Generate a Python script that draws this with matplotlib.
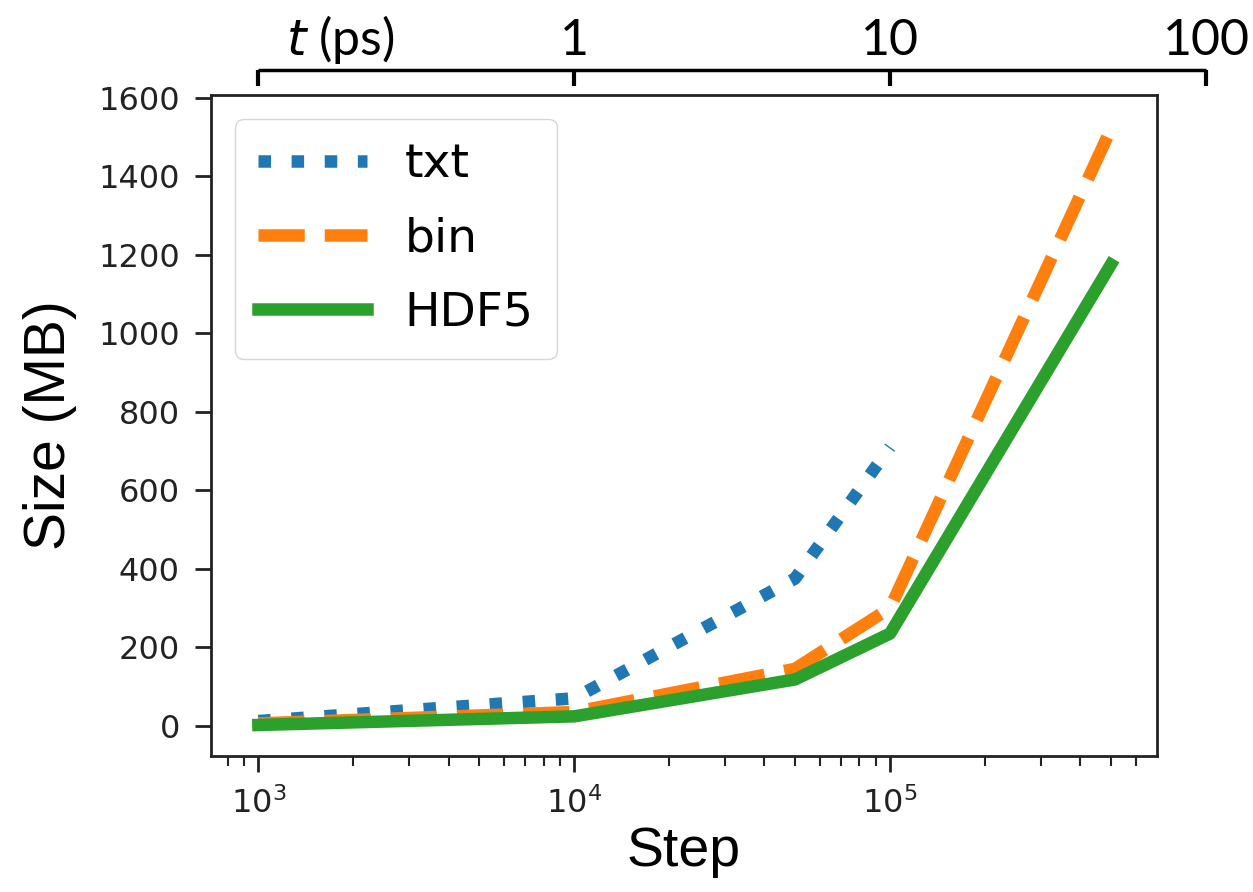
import numpy as np
import matplotlib
matplotlib.use("Agg")
import matplotlib.pyplot as plt
import matplotlib.transforms as mtransforms

# file size vs number of steps
steps_txt = [1e3, 1e4, 5e4, 1e5]
size_txt = [12, 70, 375, 710]
steps = [1e3, 1e4, 5e4, 1e5, 5e5]
size_bin = [6, 35, 145, 300, 1520]
size_hdf5 = [2, 24, 118, 235, 1175]

# top time axis (ps), 1 step = 1e-4 ps
t_ticks = [1, 10, 100]
t_per_step = 1e-4
bracket_start = 1e3

fig = plt.figure(figsize=(12.53, 8.92), dpi=100)
ax = fig.add_axes([211/1253, 1-756/892, (1157-211)/1253, (756-95)/892])

lw = 9
ax.plot(steps_txt, size_txt, ":", color="#1f77b4", lw=lw, label="txt")
ax.plot(steps, size_bin, "--", color="#ff7f0e", lw=lw, label="bin")
ax.plot(steps, size_hdf5, "-", color="#2ca02c", lw=lw, label="HDF5")

ax.set_xscale("log")
ax.set_xlim(10 ** 2.85, 10 ** 5.845)
ax.set_ylim(-77, 1607)
ax.set_yticks(np.arange(0, 1601, 200))
ax.set_xlabel("Step", fontsize=40, family="Liberation Sans", labelpad=4)
ax.set_ylabel("Size (MB)", fontsize=41, family="Liberation Sans", labelpad=15)
ax.tick_params(which="major", labelsize=23, length=11.5, width=2, pad=11,
               colors="#222222")
ax.tick_params(which="minor", length=7, width=1.5, colors="#222222")
for s in ax.spines.values():
    s.set_linewidth(2)
    s.set_color("#222222")
ax.legend(loc="upper left", fontsize=34, handlelength=2.3, labelspacing=0.62,
          borderpad=0.5, framealpha=0.8, edgecolor="#cccccc")

# bracket-shaped time axis above the plot
trans = mtransforms.blended_transform_factory(ax.transData, fig.transFigure)
y_line = 1 - 70/892
y_tick = 1 - 86/892
x_end = t_ticks[-1] / t_per_step
ax.plot([bracket_start, x_end], [y_line, y_line], color="black", lw=2.5,
        transform=trans, clip_on=False, solid_capstyle="butt", scalex=False, scaley=False)
for x in [bracket_start] + [t / t_per_step for t in t_ticks]:
    ax.plot([x, x], [y_line, y_tick], color="black", lw=3, transform=trans,
            clip_on=False, solid_capstyle="butt", scalex=False, scaley=False)
y_lab = 1 - 55/892
for t in t_ticks:
    ax.text(t / t_per_step, y_lab, str(t), transform=trans, ha="center",
            va="baseline", fontsize=36, family="Lato")
ax.text(10 ** 3.26, y_lab, r"$\mathit{t}$ (ps)", transform=trans, ha="center",
        va="baseline", fontsize=36, family="Lato")

fig.savefig("out.png", dpi=100)
